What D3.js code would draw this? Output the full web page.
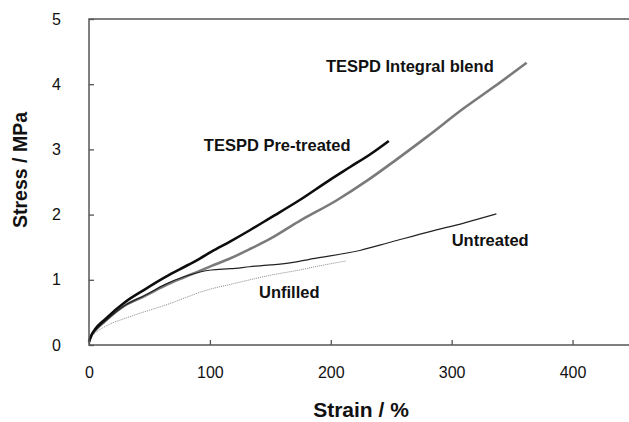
<!DOCTYPE html>
<html>
<head>
<meta charset="utf-8">
<script src="https://cdn.jsdelivr.net/npm/d3@7"></script>
<style>
  html, body { margin: 0; padding: 0; background: #fff; }
  svg { display: block; font-family: "Liberation Sans", Arial, sans-serif; }
</style>
</head>
<body>
<svg id="chart"></svg>
<script>
// values
const pretreatedStrain = [0, 2, 5, 13, 30, 46, 63, 75, 92, 101, 117, 133, 150, 174, 199, 216, 233, 248];
const pretreatedStress = [0.05, 0.15, 0.24, 0.39, 0.66, 0.85, 1.04, 1.16, 1.33, 1.43, 1.59, 1.76, 1.95, 2.22, 2.53, 2.73, 2.93, 3.13];

const integralStrain = [0, 2, 5, 13, 30, 46, 63, 75, 92, 101, 117, 133, 150, 174, 205, 230, 254, 280, 310, 335, 362];
const integralStress = [0.05, 0.15, 0.22, 0.36, 0.61, 0.75, 0.91, 1.01, 1.14, 1.21, 1.33, 1.47, 1.63, 1.9, 2.22, 2.52, 2.84, 3.2, 3.63, 3.96, 4.33];

const untreatedStrain = [0, 2, 5, 13, 30, 46, 63, 79, 92, 101, 117, 133, 150, 158, 187, 224, 250, 282, 310, 337];
const untreatedStress = [0.05, 0.15, 0.22, 0.36, 0.61, 0.76, 0.93, 1.05, 1.12, 1.15, 1.17, 1.2, 1.23, 1.24, 1.33, 1.45, 1.58, 1.74, 1.87, 2.01];

const unfilledStrain = [0, 2, 5, 13, 30, 46, 63, 79, 92, 101, 117, 133, 150, 174, 187, 213];
const unfilledStress = [0.04, 0.12, 0.18, 0.28, 0.41, 0.51, 0.61, 0.72, 0.81, 0.86, 0.93, 1.0, 1.07, 1.15, 1.2, 1.29];

const xTicks = [0, 100, 200, 300, 400];
const yTicks = [0, 1, 2, 3, 4, 5];

// curve labels, anchored in data units (left edge, baseline)
const labelText = ["TESPD Integral blend", "TESPD Pre-treated", "Untreated", "Unfilled"];
const labelStrain = [196, 95, 300, 140.6];
const labelStress = [4.19, 2.98, 1.52, 0.72];

const width = 629, height = 422;
const svg = d3.select("#chart").attr("width", width).attr("height", height);

const x = d3.scaleLinear().domain([0, 450]).range([89, 633]);
const y = d3.scaleLinear().domain([0, 5]).range([345, 19]);

const zip = (xs, ys) => xs.map((v, i) => [v, ys[i]]);

const series = [
  { pts: zip(integralStrain, integralStress), color: "#7a7a7a", w: 2.6, dash: null },
  { pts: zip(unfilledStrain, unfilledStress), color: "#8a8a8a", w: 1, dash: "1,1" },
  { pts: zip(untreatedStrain, untreatedStress), color: "#222", w: 1.2, dash: null },
  { pts: zip(pretreatedStrain, pretreatedStress), color: "#0d0d0d", w: 2.6, dash: null },
];

const line = d3.line().x((d) => x(d[0])).y((d) => y(d[1])).curve(d3.curveMonotoneX);

svg.append("g")
  .attr("fill", "none")
  .selectAll("path")
  .data(series)
  .join("path")
  .attr("d", (d) => line(d.pts))
  .attr("stroke", (d) => d.color)
  .attr("stroke-width", (d) => d.w)
  .attr("stroke-dasharray", (d) => d.dash)
  .attr("stroke-linejoin", "round");

// frame
svg.append("rect")
  .attr("x", x(0))
  .attr("y", y(5))
  .attr("width", x(450) - x(0))
  .attr("height", y(0) - y(5))
  .attr("fill", "none")
  .attr("stroke", "#555")
  .attr("stroke-width", 1.5);

// x axis, ticks pointing inward
const xAxis = svg.append("g")
  .attr("transform", `translate(0 ${y(0)})`)
  .call(d3.axisBottom(x).tickValues(xTicks).tickFormat(d3.format("d")).tickSizeInner(-5).tickSizeOuter(0).tickPadding(22));
xAxis.select(".domain").remove();
xAxis.selectAll(".tick line").attr("stroke", "#555").attr("stroke-width", 1.3);
xAxis.selectAll(".tick text").attr("font-size", 16).attr("fill", "#111")
  .attr("font-family", "Liberation Sans, Arial, sans-serif");

// y axis, ticks pointing inward
const yAxis = svg.append("g")
  .attr("transform", `translate(${x(0)} 0)`)
  .call(d3.axisLeft(y).tickValues(yTicks).tickFormat(d3.format("d")).tickSizeInner(-5).tickSizeOuter(0).tickPadding(28));
yAxis.select(".domain").remove();
yAxis.selectAll(".tick line").attr("stroke", "#555").attr("stroke-width", 1.3);
yAxis.selectAll(".tick text").attr("font-size", 16).attr("fill", "#111")
  .attr("font-family", "Liberation Sans, Arial, sans-serif");

// axis titles
svg.append("text")
  .attr("x", 361)
  .attr("y", 417)
  .attr("text-anchor", "middle")
  .attr("font-size", 21)
  .attr("font-weight", "bold")
  .attr("fill", "#111")
  .text("Strain / %");

svg.append("text")
  .attr("transform", "translate(27 170) rotate(-90)")
  .attr("text-anchor", "middle")
  .attr("font-size", 19.5)
  .attr("font-weight", "bold")
  .attr("fill", "#111")
  .text("Stress / MPa");

// curve labels
svg.append("g")
  .selectAll("text")
  .data(labelText)
  .join("text")
  .attr("x", (d, i) => x(labelStrain[i]))
  .attr("y", (d, i) => y(labelStress[i]))
  .attr("font-size", 16.5)
  .attr("font-weight", "bold")
  .attr("fill", "#111")
  .text((d) => d);
</script>
</body>
</html>
